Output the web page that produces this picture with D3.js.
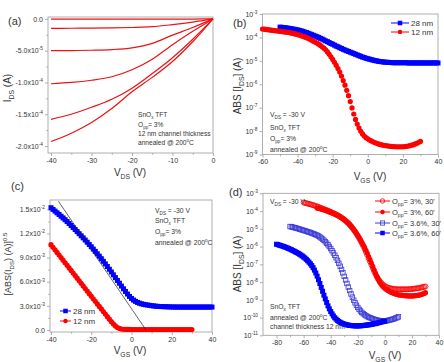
<!DOCTYPE html>
<html><head><meta charset="utf-8">
<script src="https://cdn.jsdelivr.net/npm/d3@7"></script>
<style>body{margin:0;background:#fff}svg{display:block}</style>
</head><body>
<svg id="c" width="444" height="362"></svg>
<script>
// ---------------- DATA ----------------
// (a) output curves, I_DS (A) vs V_DS (V)
const vdsA = [-40, -35, -30, -25, -20, -15, -10, -5, 0];
const idsA1 = [-0.3e-6, -0.3e-6, -0.3e-6, -0.3e-6, -0.3e-6, -0.3e-6, -0.3e-6, -0.2e-6, 0];
const idsA2 = [-14.8e-6, -14.7e-6, -14.5e-6, -14.2e-6, -13.5e-6, -12.3e-6, -9.0e-6, -5.0e-6, 0];
const idsA3 = [-50e-6, -49.8e-6, -49.3e-6, -48.3e-6, -45.5e-6, -38.5e-6, -25.5e-6, -13.5e-6, 0];
const idsA4 = [-102e-6, -100e-6, -96.5e-6, -91e-6, -80e-6, -63.5e-6, -40.5e-6, -19.5e-6, 0];
const idsA5 = [-158e-6, -150e-6, -139e-6, -126.5e-6, -109e-6, -86e-6, -61e-6, -32e-6, 0];
const idsA6 = [-193e-6, -180e-6, -163e-6, -141e-6, -114.5e-6, -92e-6, -67e-6, -36e-6, 0];
const yTicksA = [0, -5e-5, -1e-4, -1.5e-4, -2e-4];
const yTickLabelsA = [["0.0"], ["-5.0x10", ["-5", "sup"]], ["-1.0x10", ["-4", "sup"]], ["-1.5x10", ["-4", "sup"]], ["-2.0x10", ["-4", "sup"]]];

// (b) transfer curves, log10 |I_DS| (A), V_GS step 1 V
const vgsB12 = d3.range(-60, 31, 1);
const logIdsB12 = [
 -3.64,-3.65,-3.66,-3.67,-3.68,-3.69,-3.70,-3.71,-3.72,-3.73,
 -3.74,-3.75,-3.76,-3.77,-3.78,-3.79,-3.81,-3.82,-3.84,-3.86,
 -3.88,-3.90,-3.93,-3.95,-3.98,-4.01,-4.04,-4.08,-4.12,-4.16,
 -4.20,-4.24,-4.29,-4.34,-4.40,-4.46,-4.53,-4.62,-4.72,-4.83,
 -4.94,-5.06,-5.19,-5.33,-5.48,-5.65,-5.84,-6.04,-6.26,-6.49,
 -6.74,-7.01,-7.27,-7.50,-7.70,-7.87,-8.01,-8.12,-8.21,-8.28,
 -8.33,-8.38,-8.42,-8.46,-8.49,-8.52,-8.55,-8.57,-8.59,-8.61,
 -8.62,-8.63,-8.64,-8.65,-8.66,-8.66,-8.67,-8.67,-8.67,-8.67,
 -8.67,-8.66,-8.65,-8.64,-8.62,-8.60,-8.58,-8.55,-8.52,-8.48,-8.44];
const vgsB28 = d3.range(-50, 41, 1);
const logIdsB28 = [
 -3.56,-3.57,-3.58,-3.59,-3.60,-3.61,-3.62,-3.64,-3.65,-3.67,
 -3.68,-3.70,-3.72,-3.74,-3.77,-3.79,-3.82,-3.85,-3.88,-3.91,
 -3.94,-3.97,-4.00,-4.04,-4.07,-4.11,-4.15,-4.18,-4.22,-4.26,
 -4.29,-4.33,-4.37,-4.40,-4.44,-4.47,-4.51,-4.54,-4.57,-4.60,
 -4.63,-4.66,-4.69,-4.72,-4.75,-4.78,-4.81,-4.84,-4.86,-4.89,
 -4.91,-4.93,-4.95,-4.97,-4.99,-5.00,-5.02,-5.03,-5.04,-5.05,
 -5.06,-5.06,-5.07,-5.07,-5.08,-5.08,-5.08,-5.08,-5.08,-5.08,
 -5.08,-5.08,-5.08,-5.09,-5.09,-5.09,-5.09,-5.09,-5.09,-5.09,
 -5.09,-5.09,-5.09,-5.09,-5.09,-5.09,-5.09,-5.09,-5.09,-5.09,-5.09];

// (c) sqrt(|I_DS|) (A^0.5)
const vgsC28 = d3.range(-40, 41, 1);
const sqrtIdsC28 = [
 .01520,.01499,.01478,.01457,.01436,.01414,.01393,.01371,.01348,.01324,
 .01299,.01274,.01249,.01223,.01197,.01171,.01145,.01118,.01091,.01063,
 .01035,.01006,.00977,.00947,.00917,.00886,.00854,.00822,.00789,.00755,
 .00721,.00686,.00651,.00616,.00581,.00546,.00512,.00479,.00447,.00417,
 .00392,.00372,.00356,.00343,.00333,.00325,.00319,.00314,.00310,.00306,
 .00302,.00299,.00296,.00294,.00292,.00291,.00290,.00289,.00288,.00287,
 .00286,.00286,.00285,.00285,.00285,.00285,.00285,.00285,.00285,.00285,
 .00285,.00285,.00285,.00285,.00285,.00285,.00285,.00285,.00285,.00285,.00285];
const vgsC12 = d3.range(-40, 31, 1);
const sqrtIdsC12 = [
 .01060,.01028,.00996,.00964,.00932,.00900,.00868,.00836,.00804,.00772,
 .00740,.00708,.00676,.00644,.00612,.00580,.00548,.00516,.00484,.00452,
 .00420,.00388,.00356,.00324,.00293,.00262,.00230,.00198,.00166,.00134,
 .00103,.00075,.00050,.00031,.00019,.00012,.00009,.00008,.00007,.00007,
 .00006,.00006,.00006,.00006,.00006,.00006,.00006,.00006,.00006,.00006,
 .00006,.00006,.00006,.00006,.00006,.00006,.00006,.00006,.00006,.00006,
 .00006,.00006,.00006,.00006,.00006,.00006,.00006,.00006,.00006,.00006,.00006];
const fitC28 = [[-36.3, 0.0160], [7.2, 0]];
const fitC12 = [[-40, 0.0106], [-6.9, 0]];
const yTicksC = [0, 0.003, 0.006, 0.009, 0.012, 0.015];
const yTickLabelsC = [["0.0"], ["3.0x10", ["-3", "sup"]], ["6.0x10", ["-3", "sup"]], ["9.0x10", ["-3", "sup"]], ["1.2x10", ["-2", "sup"]], ["1.5x10", ["-2", "sup"]]];

// (d) log10 |I_DS| (A)
const vgsD3_30 = d3.range(-60, 31, 1);
const logIdsD3_30 = [
 -3.52,-3.54,-3.56,-3.58,-3.60,-3.62,-3.64,-3.67,-3.69,-3.72,
 -3.74,-3.77,-3.80,-3.83,-3.86,-3.89,-3.92,-3.95,-3.98,-4.01,
 -4.05,-4.08,-4.12,-4.15,-4.19,-4.23,-4.27,-4.32,-4.37,-4.42,
 -4.48,-4.54,-4.61,-4.68,-4.76,-4.85,-4.95,-5.05,-5.16,-5.28,
 -5.40,-5.53,-5.67,-5.82,-5.97,-6.13,-6.30,-6.48,-6.66,-6.84,
 -7.02,-7.20,-7.37,-7.53,-7.68,-7.81,-7.92,-8.02,-8.10,-8.17,
 -8.22,-8.27,-8.30,-8.33,-8.35,-8.37,-8.38,-8.39,-8.40,-8.41,
 -8.41,-8.41,-8.41,-8.41,-8.41,-8.41,-8.41,-8.41,-8.40,-8.40,
 -8.39,-8.38,-8.37,-8.36,-8.35,-8.34,-8.32,-8.30,-8.29,-8.27,-8.25];
const vgsD3_60 = d3.range(-50, 31, 1);
const logIdsD3_60 = [
 -3.83,-3.85,-3.87,-3.89,-3.91,-3.94,-3.96,-3.99,-4.02,-4.05,
 -4.08,-4.11,-4.14,-4.17,-4.21,-4.24,-4.28,-4.33,-4.38,-4.43,
 -4.49,-4.55,-4.62,-4.69,-4.77,-4.85,-4.94,-5.04,-5.14,-5.25,
 -5.37,-5.49,-5.62,-5.76,-5.90,-6.05,-6.21,-6.38,-6.56,-6.74,
 -6.93,-7.12,-7.31,-7.50,-7.68,-7.84,-7.98,-8.10,-8.20,-8.28,
 -8.35,-8.41,-8.46,-8.51,-8.55,-8.59,-8.62,-8.65,-8.68,-8.70,
 -8.72,-8.73,-8.74,-8.75,-8.76,-8.77,-8.77,-8.78,-8.78,-8.78,
 -8.78,-8.78,-8.77,-8.76,-8.75,-8.74,-8.72,-8.70,-8.67,-8.64,-8.60];
const vgsD36_30 = d3.range(-70, 11, 1);
const logIdsD36_30 = [
 -4.87,-4.89,-4.91,-4.93,-4.95,-4.97,-4.99,-5.02,-5.04,-5.07,
 -5.09,-5.11,-5.14,-5.16,-5.19,-5.21,-5.24,-5.27,-5.30,-5.33,
 -5.37,-5.41,-5.46,-5.52,-5.58,-5.65,-5.73,-5.81,-5.90,-6.00,
 -6.11,-6.23,-6.36,-6.49,-6.63,-6.78,-6.94,-7.11,-7.29,-7.48,
 -7.68,-7.88,-8.08,-8.28,-8.48,-8.67,-8.85,-9.02,-9.17,-9.31,
 -9.43,-9.54,-9.63,-9.71,-9.78,-9.84,-9.89,-9.94,-9.98,-10.01,
 -10.04,-10.07,-10.10,-10.12,-10.14,-10.16,-10.17,-10.18,-10.19,-10.19,
 -10.19,-10.18,-10.17,-10.15,-10.13,-10.11,-10.09,-10.06,-10.03,-10.00,-9.96];
const vgsD36_60 = d3.range(-80, 1, 1);
const logIdsD36_60 = [
 -5.87,-5.89,-5.92,-5.94,-5.97,-5.99,-6.02,-6.05,-6.08,-6.11,
 -6.15,-6.18,-6.22,-6.26,-6.30,-6.34,-6.38,-6.43,-6.48,-6.53,
 -6.59,-6.65,-6.72,-6.80,-6.88,-6.97,-7.07,-7.19,-7.33,-7.49,
 -7.67,-7.87,-8.08,-8.30,-8.52,-8.74,-8.95,-9.15,-9.34,-9.51,
 -9.66,-9.79,-9.91,-10.01,-10.09,-10.16,-10.22,-10.27,-10.31,-10.34,
 -10.37,-10.39,-10.41,-10.43,-10.44,-10.45,-10.46,-10.46,-10.47,-10.47,
 -10.47,-10.47,-10.46,-10.46,-10.45,-10.44,-10.43,-10.42,-10.41,-10.40,
 -10.39,-10.37,-10.35,-10.34,-10.32,-10.30,-10.28,-10.26,-10.24,-10.22,-10.20];

// ---------------- DRAWING ----------------
const FONT = "'Liberation Sans', Arial, Helvetica, sans-serif";
const TXT = "#333";
const AX = "#9c9c9c";
const RED = "#ff0000";
const BLUE = "#0000ff";
const svg = d3.select("#c").attr("font-family", FONT);

function rich(t, parts, fs) {
  let shift = 0;
  parts.forEach(p => {
    const [s, k] = Array.isArray(p) ? p : [p, "n"];
    const target = k === "sub" ? fs * 0.3 : k === "sup" ? -fs * 0.42 : 0;
    const ts = t.append("tspan").attr("font-size", k === "n" ? fs : fs * 0.68).text(s);
    if (target - shift !== 0) ts.attr("dy", target - shift);
    shift = target;
  });
}
function label(x, y, parts, fs, opt = {}) {
  const t = svg.append("text").attr("x", x).attr("y", y).attr("font-size", fs).attr("fill", TXT);
  if (opt.anchor) t.attr("text-anchor", opt.anchor);
  if (opt.rotate) t.attr("transform", `rotate(-90 ${x} ${y})`);
  rich(t, parts, fs);
  return t;
}
function axes(x, y, o) {
  const [x0, x1] = x.range(), [y0, y1] = y.range();
  const g = svg.append("g");
  const fix = sel => {
    sel.select(".domain").remove();
    sel.selectAll(".tick line").attr("stroke", AX).attr("stroke-width", 0.8);
  };
  const xa = g.append("g").attr("transform", `translate(0,${y0})`)
    .call(d3.axisBottom(x).tickValues(o.xMajor).tickSize(3).tickSizeOuter(0).tickPadding(2).tickFormat(() => ""));
  fix(xa);
  xa.selectAll(".tick text").each(function (d) {
    const t = d3.select(this).text(null).attr("font-size", 7).attr("fill", TXT).attr("font-family", FONT);
    rich(t, [String(d)], 7);
  });
  const xm = g.append("g").attr("transform", `translate(0,${y0})`)
    .call(d3.axisBottom(x).tickValues(o.xMinor).tickSize(1.8).tickSizeOuter(0).tickFormat(() => ""));
  fix(xm);
  const ya = g.append("g").attr("transform", `translate(${x0},0)`)
    .call(d3.axisLeft(y).tickValues(o.yMajor).tickSize(3).tickSizeOuter(0).tickPadding(2).tickFormat(() => ""));
  fix(ya);
  ya.selectAll(".tick text").each(function (d, i) {
    const t = d3.select(this).text(null).attr("font-size", 7).attr("fill", TXT).attr("font-family", FONT);
    rich(t, o.yFmt(d, i), 7);
  });
  if (o.yMinor) {
    const ym = g.append("g").attr("transform", `translate(${x0},0)`)
      .call(d3.axisLeft(y).tickValues(o.yMinor).tickSize(1.8).tickSizeOuter(0).tickFormat(() => ""));
    fix(ym);
  }
  g.append("rect").attr("x", x0).attr("y", y1).attr("width", x1 - x0).attr("height", y0 - y1)
    .attr("fill", "none").attr("stroke", AX).attr("stroke-width", 0.8);
}
const logFmt = d => ["10", [String(Math.round(Math.log10(d))), "sup"]];
const pow10 = v => Math.pow(10, v);

function markers(g, xs, ys, x, y, shape, filled, color, size) {
  const pts = d3.zip(xs, ys);
  if (shape === "square") {
    g.selectAll(null).data(pts).join("rect")
      .attr("x", d => x(d[0]) - size / 2).attr("y", d => y(d[1]) - size / 2)
      .attr("width", size).attr("height", size)
      .attr("fill", filled ? color : "none").attr("stroke", filled ? "none" : color).attr("stroke-width", 0.8);
  } else {
    g.selectAll(null).data(pts).join("circle")
      .attr("cx", d => x(d[0])).attr("cy", d => y(d[1])).attr("r", size / 2)
      .attr("fill", filled ? color : "none").attr("stroke", filled ? "none" : color).attr("stroke-width", 0.8);
  }
}
function legendRow(lx0, lx1, ly, shape, filled, color, size, parts, fs) {
  svg.append("line").attr("x1", lx0).attr("x2", lx1).attr("y1", ly).attr("y2", ly).attr("stroke", color).attr("stroke-width", 1);
  const g = svg.append("g");
  markers(g, [(lx0 + lx1) / 2], [ly], v => v, v => v, shape, filled, color, size);
  label(lx1 + 2, ly + fs * 0.35, parts, fs);
}

// ===== Panel (a) =====
{
  const x = d3.scaleLinear().domain([-40.75, 0]).range([48, 213]);
  const y = d3.scaleLinear().domain([-2.11e-4, 0.03e-4]).range([153, 17]);
  axes(x, y, {
    xMajor: [-40, -30, -20, -10, 0], xMinor: [-35, -25, -15, -5],
    yMajor: yTicksA, yMinor: [-2.5e-5, -7.5e-5, -1.25e-4, -1.75e-4],
    yFmt: (d, i) => yTickLabelsA[i]
  });
  const line = d3.line().x(d => x(d[0])).y(d => y(d[1])).curve(d3.curveMonotoneX);
  [idsA1, idsA2, idsA3, idsA4, idsA5, idsA6].forEach(s => {
    svg.append("path").attr("d", line(d3.zip(vdsA, s))).attr("fill", "none")
      .attr("stroke", "#f01010").attr("stroke-width", 1.2);
  });
  label(8, 25, ["(a)"], 11);
  label(11, 88, ["I", ["DS", "sub"], " (A)"], 10, { anchor: "middle", rotate: true });
  label(130, 176, ["V", ["DS", "sub"], " (V)"], 10, { anchor: "middle" });
  label(138, 117, ["SnO", ["x", "sub"], " TFT"], 6.6);
  label(138, 127, ["O", ["pp", "sub"], "= 3%"], 6.6);
  label(138, 136, ["12 nm channel thickness"], 6.6);
  label(138, 145, ["annealed @ 200", ["o", "sup"], "C"], 6.6);
}

// ===== Panel (b) =====
{
  const x = d3.scaleLinear().domain([-60, 40]).range([262.5, 438]);
  const y = d3.scaleLog().domain([1e-9, 1e-3]).range([154.5, 14]);
  axes(x, y, {
    xMajor: [-60, -40, -20, 0, 20, 40], xMinor: [-50, -30, -10, 10, 30],
    yMajor: [1e-9, 1e-8, 1e-7, 1e-6, 1e-5, 1e-4, 1e-3], yFmt: logFmt
  });
  const g = svg.append("g");
  markers(g, vgsB28, logIdsB28.map(pow10), x, y, "square", true, BLUE, 5);
  markers(g, vgsB12, logIdsB12.map(pow10), x, y, "circle", true, RED, 5.2);
  label(233, 27, ["(b)"], 11);
  label(241, 86, ["ABS [I", ["DS", "sub"], "] (A)"], 10, { anchor: "middle", rotate: true });
  label(370, 180, ["V", ["GS", "sub"], " (V)"], 10, { anchor: "middle" });
  legendRow(391, 409, 23, "square", true, BLUE, 4.5, ["28 nm"], 8);
  legendRow(391, 409, 32, "circle", true, RED, 4.5, ["12 nm"], 8);
  label(270, 117, ["V", ["DS", "sub"], " = -30 V"], 6.8);
  label(270, 130, ["SnO", ["x", "sub"], " TFT"], 6.8);
  label(270, 141, ["O", ["pp", "sub"], "= 3%"], 6.8);
  label(270, 152, ["annealed @ 200", ["o", "sup"], "C"], 6.8);
}

// ===== Panel (c) =====
{
  const x = d3.scaleLinear().domain([-40.5, 40]).range([50, 212]);
  const y = d3.scaleLinear().domain([-0.00025, 0.01616]).range([332, 200]);
  axes(x, y, {
    xMajor: [-40, -20, 0, 20, 40], xMinor: [-30, -10, 10, 30],
    yMajor: yTicksC, yMinor: [0.0015, 0.0045, 0.0075, 0.0105, 0.0135],
    yFmt: (d, i) => yTickLabelsC[i]
  });
  const g = svg.append("g");
  const line = d3.line().x(d => x(d[0])).y(d => y(d[1]));
  svg.append("path").attr("d", line(fitC12)).attr("stroke", RED).attr("stroke-width", 0.7).attr("fill", "none");
  markers(g, vgsC28, sqrtIdsC28, x, y, "square", true, BLUE, 5);
  markers(g, vgsC12, sqrtIdsC12, x, y, "circle", true, RED, 5.2);
  svg.append("path").attr("d", line(fitC28)).attr("stroke", "#222").attr("stroke-width", 0.7).attr("fill", "none");
  label(11, 190, ["(c)"], 11);
  label(11, 264, ["[ABS(I", ["DS", "sub"], ") (A)]", ["0.5", "sup"]], 9, { anchor: "middle", rotate: true });
  label(130, 354, ["V", ["GS", "sub"], " (V)"], 10, { anchor: "middle" });
  legendRow(60, 71, 311, "square", true, BLUE, 4.5, ["28 nm"], 8);
  legendRow(60, 71, 321, "circle", true, RED, 4.5, ["12 nm"], 8);
  label(155, 213, ["V", ["DS", "sub"], " = -30 V"], 6.8);
  label(155, 223, ["SnO", ["x", "sub"], " TFT"], 6.8);
  label(155, 234, ["O", ["pp", "sub"], "= 3%"], 6.8);
  label(155, 245, ["annealed @ 200", ["o", "sup"], "C"], 6.8);
}

// ===== Panel (d) =====
{
  const x = d3.scaleLinear().domain([-90, 40]).range([263, 439]);
  const y = d3.scaleLog().domain([1e-11, 1e-3]).range([335.3, 193.3]);
  axes(x, y, {
    xMajor: [-80, -60, -40, -20, 0, 20, 40], xMinor: [-70, -50, -30, -10, 10, 30],
    yMajor: [1e-11, 1e-10, 1e-9, 1e-8, 1e-7, 1e-6, 1e-5, 1e-4, 1e-3], yFmt: logFmt
  });
  const g = svg.append("g");
  markers(g, vgsD3_30, logIdsD3_30.map(pow10), x, y, "circle", false, RED, 5);
  markers(g, vgsD3_60, logIdsD3_60.map(pow10), x, y, "circle", true, RED, 5.2);
  markers(g, vgsD36_30, logIdsD36_30.map(pow10), x, y, "square", false, "#3a3ad8", 4.5);
  markers(g, vgsD36_60, logIdsD36_60.map(pow10), x, y, "square", true, BLUE, 5);
  label(229, 196, ["(d)"], 11);
  label(241, 264, ["ABS [I", ["DS", "sub"], "] (A)"], 10, { anchor: "middle", rotate: true });
  label(385, 359, ["V", ["GS", "sub"], " (V)"], 10, { anchor: "middle" });
  legendRow(375, 390, 201, "circle", false, RED, 4.5, ["O", ["pp", "sub"], "= 3%, 30'"], 7.5);
  legendRow(375, 390, 212, "circle", true, RED, 4.5, ["O", ["pp", "sub"], "= 3%, 60'"], 7.5);
  legendRow(375, 390, 223, "square", false, "#3a3ad8", 4.2, ["O", ["pp", "sub"], "= 3.6%, 30'"], 7.5);
  legendRow(375, 390, 233, "square", true, BLUE, 4.5, ["O", ["pp", "sub"], "= 3.6%, 60'"], 7.5);
  label(270, 204, ["V", ["DS", "sub"], " = -30 V"], 6.8);
  label(270, 309, ["SnO", ["x", "sub"], " TFT"], 6.8);
  label(270, 320, ["annealed @ 200", ["o", "sup"], "C"], 6.8);
  label(270, 329, ["channel thickness 12 nm"], 6.8);
}
</script>
</body></html>
